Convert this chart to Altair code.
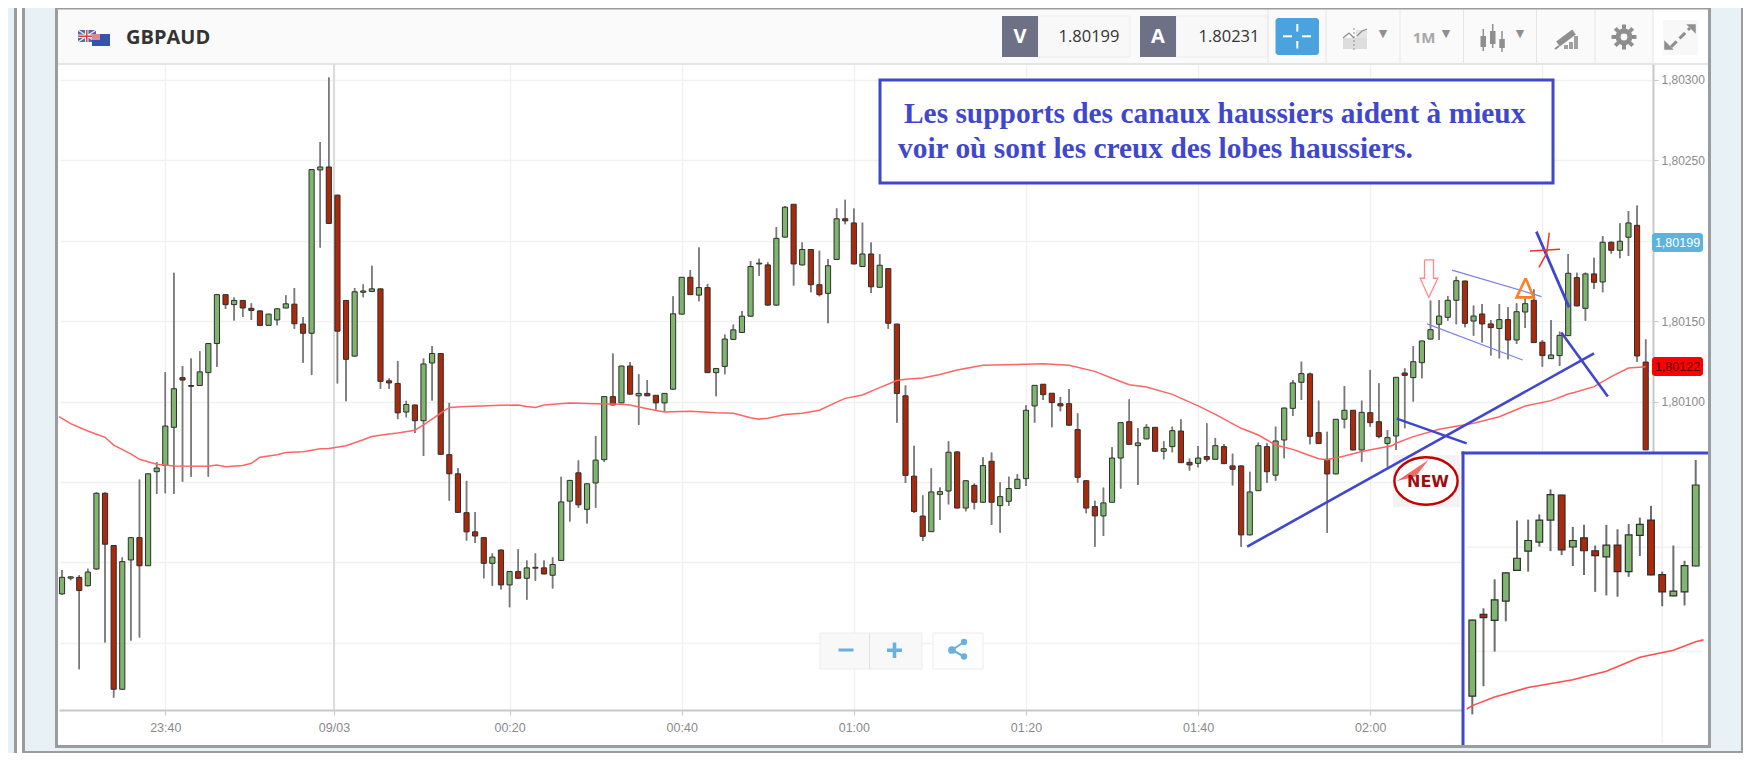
import altair as alt
import pandas as pd

# Candles, in points above 1.80000 (one point = 0.00001)
opens = [-19.6,-9.8,-9.3,-14.5,-4.1,43.0,10.5,-78.9,1.5,15.4,-2.1,56.4,60.3,84.0,114.9,109.5,110.0,118.0,136.1,166.5,
 160.3,162.9,158.0,156.4,147.4,150.8,158.2,160.6,148.2,142.5,244.1,245.9,228.4,162.9,128.3,168.0,168.5,170.1,112.9,111.3,
 93.5,97.9,88.1,124.0,129.9,67.0,55.1,30.9,19.0,15.4,-0.6,7.7,-14.0,-5.7,-9.9,-3.6,-3.4,-8.0,1.2,38.1,
 55.7,33.0,49.4,63.9,103.1,99.2,122.1,103.6,105.1,103.9,99.2,107.7,154.4,177.3,166.2,170.9,118.0,121.9,138.7,143.0,
 153.1,185.6,185.0,160.0,202.3,222.7,185.0,194.6,172.7,167.3,188.4,213.7,211.1,184.0,191.8,171.1,182.7,148.2,103.6,53.6,
 28.8,19.1,42.3,44.4,68.7,33.8,47.9,37.4,62.9,35.3,38.0,45.9,52.1,97.3,110.8,105.2,98.7,98.7,82.6,50.8,
 34.7,28.9,37.4,64.9,87.5,72.6,76.8,84.0,69.1,72.0,81.7,62.2,61.6,65.8,64.1,72.0,60.0,60.0,17.1,44.6,
 72.0,54.2,76.1,95.8,112.0,117.2,80.7,64.1,55.0,89.0,94.6,69.9,93.1,87.5,74.0,78.6,117.8,114.9,124.2,138.9,
 148.1,152.4,163.0,175.0,150.1,154.5,148.3,145.4,151.0,138.3,155.7,163.0,136.9,126.7,128.6,141.0,177.1,158.0,179.4,174.4,
 199.1,194.1,202.2,209.6,124.6]
highs = [-4.7,-8.5,-8.0,-3.9,43.5,43.5,10.8,3.1,15.6,51.5,55.3,62.4,118.3,180.1,122.1,126.8,131.4,136.4,166.7,166.7,
 164.7,163.1,161.1,156.6,154.6,157.9,166.2,170.6,152.6,244.5,261.4,301.6,228.6,163.1,170.6,172.9,184.5,170.3,114.4,125.2,
 100.5,98.1,126.8,134.5,130.1,99.2,58.5,50.7,31.4,15.6,5.6,7.9,-5.5,8.2,1.2,5.6,1.2,3.1,53.3,51.2,
 63.4,49.1,78.6,103.3,129.9,122.3,124.7,117.0,113.4,104.1,105.3,165.5,177.5,181.7,195.9,173.2,120.8,141.7,147.9,156.4,
 187.4,188.9,186.6,208.5,221.7,222.9,199.0,194.8,193.8,188.7,220.1,225.5,220.1,211.3,199.0,191.8,182.9,148.4,110.0,72.6,
 41.7,58.5,46.5,75.3,68.9,51.0,49.0,65.4,68.3,49.8,53.3,54.8,97.7,110.3,111.0,105.4,102.9,107.8,92.7,51.0,
 38.4,46.5,71.6,87.1,101.4,83.6,85.9,84.2,75.3,84.4,89.0,64.5,72.4,86.5,77.4,73.6,67.6,60.2,56.4,74.5,
 74.1,84.4,96.2,113.4,124.8,118.0,100.6,81.3,89.2,109.7,94.8,100.6,119.7,111.4,82.3,115.3,120.7,134.6,137.9,162.8,
 163.2,165.7,177.7,175.2,159.7,160.7,150.8,160.7,158.6,161.1,164.2,169.8,138.3,150.8,143.5,191.8,180.2,180.2,189.5,203.0,
 199.5,210.9,218.5,221.9,138.7]
lows = [-20.1,-11.1,-66.5,-15.0,-4.5,-49.8,-84.1,-79.1,-48.5,-46.7,-2.3,42.5,43.0,42.5,50.2,53.3,109.8,53.3,121.6,157.7,
 150.5,152.6,150.8,147.2,147.2,147.4,158.0,145.3,124.2,116.5,195.9,210.6,111.3,100.2,128.1,164.9,168.3,108.0,108.0,89.1,
 90.2,80.4,66.2,100.7,67.0,38.4,30.9,13.6,12.1,-9.9,-14.5,-16.8,-27.9,-10.1,-23.2,-11.4,-7.4,-16.2,1.0,25.5,
 34.0,24.2,34.0,62.4,97.7,99.0,104.4,85.5,103.4,95.1,93.8,107.5,154.2,166.3,162.4,117.8,103.4,117.0,138.5,142.8,
 152.9,178.3,159.8,159.8,202.1,172.2,184.8,168.0,165.5,148.7,188.2,210.3,185.4,183.8,167.5,170.9,145.3,86.8,49.4,30.7,
 13.4,18.9,26.4,36.1,33.6,31.8,33.0,37.2,23.3,18.5,35.3,45.7,47.5,86.9,101.0,84.0,94.0,85.1,49.6,30.5,
 9.8,16.4,37.2,45.9,73.2,48.1,76.6,69.0,64.1,68.5,61.8,57.1,59.1,62.7,63.9,61.2,47.9,9.8,16.9,44.4,
 49.6,50.8,64.7,91.1,101.0,73.4,73.7,18.5,54.8,83.4,69.7,62.6,84.4,77.2,59.5,69.9,83.4,100.0,114.5,138.7,
 138.3,150.3,148.1,146.2,141.0,136.7,128.6,126.9,126.3,135.8,145.8,136.5,121.7,126.5,122.1,140.8,159.3,150.3,170.0,168.0,
 192.0,189.1,190.6,124.8,70.0]
closes = [-9.3,-9.0,-17.5,-6.0,43.0,11.3,-78.9,0.5,15.4,-2.1,55.1,58.7,84.8,108.0,113.4,110.0,118.5,136.1,166.5,160.3,
 162.9,158.2,156.7,147.4,154.4,157.7,160.8,148.4,142.5,244.3,245.9,210.8,143.8,126.3,168.3,168.8,170.1,112.6,111.6,93.0,
 98.2,88.1,123.4,129.9,67.2,55.1,31.1,19.0,16.4,-0.6,3.3,-14.0,-5.7,-9.9,-3.4,-3.1,-7.2,-1.3,37.6,51.0,
 35.8,48.9,63.6,103.1,97.9,122.1,104.6,105.1,103.6,99.2,105.1,154.6,177.3,166.5,170.9,118.0,120.6,138.9,144.6,153.1,
 184.0,186.1,160.0,201.5,220.9,185.6,194.6,172.7,166.5,184.5,213.7,212.4,185.6,191.8,171.4,184.8,148.7,105.1,54.1,31.7,
 16.2,43.8,44.0,68.5,33.8,50.8,37.4,60.2,37.4,40.9,45.9,51.7,94.6,110.1,104.3,99.4,97.3,85.3,52.9,33.8,
 28.9,37.0,64.9,86.9,73.4,74.3,84.0,69.1,70.7,81.9,62.0,60.6,64.9,64.1,72.6,61.4,57.9,17.1,43.8,72.6,
 56.4,75.5,96.0,111.6,117.4,78.4,73.9,55.0,89.0,94.6,69.9,93.3,86.9,78.2,77.6,115.1,116.3,124.8,137.7,144.7,
 153.2,163.0,175.2,148.7,153.2,148.3,146.0,151.0,138.3,155.9,160.9,136.7,128.6,129.0,141.2,179.8,159.5,179.4,174.2,199.1,
 194.1,199.7,211.1,128.4,70.0]

# Moving average, read at these candle numbers
ma_index = [-0.35,1,3,5,6,8,9,11,13,17,18,19,21,22,23,25,26,28,30,31,33,35,36,38,39,41,42,43,44,45,47,51,53,54,55,56,59,62,65,66,68,70,73,76,78,80,81,82,84,86,88,90,91,93,95,97,98,100,102,104,107,111,114,117,120,122,124,126,129,132,134,137,139,141,143,144,146,147,149,151,154.5,155,157,160,164,167,170,173,175,175.7,178,180,182,184]
ma_value = [90.7,86.3,81.7,77.8,72.9,67.5,64.1,61,60,59.8,60.5,59.5,60.3,61.6,65.4,67,68.3,68.8,70.6,70.8,72.6,76.3,78.3,79.9,80.4,82.2,85.5,89.1,92.8,96.4,96.9,97.7,97.9,96.9,96.4,97.9,99.2,98.7,98.4,97.9,95.6,93.5,94,93,92.8,89.9,89.1,89.7,92,92.8,94.6,99.7,102,104.1,108.7,113.1,113.9,114.7,116.8,119.7,122.6,123,123.6,122.6,118.8,114.5,110.5,109.1,104.5,97.3,92.1,83.4,79.2,73,70.3,68.3,64.5,63.9,66.2,68.9,72.5,74.1,78.2,82.8,86.5,90.6,97.3,100.6,104.7,105.6,109.3,115.5,120.9,121.7]

x_tick_values = [12,31.6,52,72,92,112,132,152,172]
x_tick_labels = ["23:40","09/03","00:20","00:40","01:00","01:20","01:40","02:00",""]
y_tick_points = [300,250,200,150,100,50,0,-50]
y_tick_shown = [300,250,150,100]

title_lines = ["Les supports des canaux haussiers aident à mieux",
               "voir où sont les creux des lobes haussiers."]
symbol = "GBPAUD"
bid, ask = "1.80199", "1.80231"


def price(p):
    return 1.8 + p / 1e5


W, H = 1594, 646
OX, OY = 59, 64          # where the plot area starts on the page
BLUE = "#3f48cc"
SANS = "Liberation Sans"
OPEN = "Open Sans"

base = pd.DataFrame({"a": [0]})
rows = []
for i, (o, h, l, c) in enumerate(zip(opens, highs, lows, closes)):
    rows.append(dict(i=i, a=i - 0.3, b=i + 0.3, open=price(o), high=price(h), low=price(l), close=price(c),
                     dir="up" if c >= o else "down"))
candles = pd.DataFrame(rows)
ma = pd.DataFrame({"i": ma_index, "v": [price(v) for v in ma_value]})

main_x = alt.Scale(domain=[-0.35, 184.85], range=[0, W])
main_y = alt.Scale(domain=[price(-91.8), price(309.95)], range=[H, 0])
ins_x = alt.Scale(domain=[155, 175], range=[1413.3, 1636.7])
ins_y = alt.Scale(domain=[price(72), price(381.5)], range=[H, 0])
body_color = alt.Color("dir:N", scale=alt.Scale(domain=["up", "down"], range=["#7fb56f", "#ab2a0b"]), legend=None)


def rect(x1, y1, x2, y2, fill, **kw):
    return alt.Chart(base).mark_rect(fill=fill, **kw).encode(
        x=alt.value(x1 - OX), x2=alt.value(x2 - OX), y=alt.value(y1 - OY), y2=alt.value(y2 - OY))


def seg(x1, y1, x2, y2, color, w=1.0, **kw):
    return alt.Chart(base).mark_rule(color=color, strokeWidth=w, **kw).encode(
        x=alt.value(x1 - OX), x2=alt.value(x2 - OX), y=alt.value(y1 - OY), y2=alt.value(y2 - OY))


def txt(x, y, s, size, color, font=SANS, weight="normal", align="center", **kw):
    return alt.Chart(base).mark_text(text=s, fontSize=size, color=color, font=font, fontWeight=weight,
                                     align=align, baseline="middle", **kw).encode(
        x=alt.value(x - OX), y=alt.value(y - OY))


def poly(idx, pts, color, w):
    d = pd.DataFrame({"i": idx, "p": [price(p) for p in pts], "n": range(len(idx))})
    return alt.Chart(d).mark_line(color=color, strokeWidth=w).encode(
        x=alt.X("i:Q", scale=main_x, axis=None),
        y=alt.Y("p:Q", scale=main_y, axis=None),
        order="n:Q")


def shape(x, y, path, size, **kw):
    return alt.Chart(base).mark_point(shape=path, size=size, filled=True, **kw).encode(
        x=alt.value(x - OX), y=alt.value(y - OY))


layers = []

# Main wicks carry the real axes and grid
label_expr = "{}[indexof({}, datum.value)]".format(x_tick_labels, x_tick_values)
y_label_expr = ("indexof({}, round(datum.value*1e5)-180000) < 0 ? '' : "
                "replace(format(datum.value,'.5f'),'.',',')").format(y_tick_shown)
layers.append(alt.Chart(candles).mark_rule(color="#7a7a7a", strokeWidth=1.5).encode(
    x=alt.X("i:Q", scale=main_x, axis=alt.Axis(
        values=x_tick_values, labelExpr=label_expr, title=None, grid=True, gridColor="#f1f1f1", gridWidth=1.5,
        domainColor="#c8c8c8", domainWidth=2, tickColor="#c8c8c8", tickSize=5, labelColor="#8a8a8a",
        labelFont=SANS, labelFontSize=12.5, labelPadding=6, labelFlush=False, labelOverlap=False)),
    y=alt.Y("high:Q", scale=main_y, axis=alt.Axis(
        values=[price(v) for v in y_tick_points], orient="right", title=None, grid=True, gridColor="#f1f1f1",
        gridWidth=1.5, domainColor="#c8c8c8", domainWidth=2, tickColor="#c8c8c8", tickSize=5,
        labelColor="#8a8a8a", labelFont=SANS, labelFontSize=12, labelPadding=3, labelOverlap=False,
        labelExpr=y_label_expr)),
    y2="low:Q"))

# darker midnight gridline
layers.append(alt.Chart(pd.DataFrame({"i": [31.6]})).mark_rule(color="#dcdcdc", strokeWidth=2).encode(
    x=alt.X("i:Q", scale=main_x, axis=None)))

# NEW sticker sits below the hand-drawn lines
layers += [
    rect(1393, 455, 1460, 507, "#f3f3f3"),
    alt.Chart(base).mark_point(shape="M-1,0 A1,0.75 0 1,0 1,0 A1,0.75 0 1,0 -1,0 Z", size=4000, filled=True,
                               fill="#ffffff", stroke="#c40000", strokeWidth=2.4, opacity=1).encode(
        x=alt.value(1426 - OX), y=alt.value(481 - OY)),
    shape(1412, 470, "M-0.78,0.57 L0.86,-0.53 L0.19,0.34 Z", 1500, fill="#f26a6a", opacity=1),
    txt(1428, 482, "NEW", 16, "#a00d0d", font="DejaVu Sans", weight="bold"),
]

layers.append(alt.Chart(candles).mark_rule(color="#7a7a7a", strokeWidth=1.5).encode(
    x=alt.X("i:Q", scale=main_x, axis=None), y=alt.Y("high:Q", scale=main_y, axis=None), y2="low:Q"))
layers.append(alt.Chart(candles).mark_rect(stroke="#2e2e2e", strokeWidth=1).encode(
    x=alt.X("a:Q", scale=main_x, axis=None), x2="b:Q",
    y=alt.Y("open:Q", scale=main_y, axis=None), y2="close:Q", color=body_color))
layers.append(alt.Chart(ma).mark_line(color="#ff6464", strokeWidth=1.5).encode(
    x=alt.X("i:Q", scale=main_x, axis=None), y=alt.Y("v:Q", scale=main_y, axis=None), order="i:Q"))

# Hand-drawn annotations
layers += [
    poly([137.7, 178.0], [9.8, 130.0], BLUE, 2.6),
    poly([155.07, 163.2], [89.4, 74.0], BLUE, 2.6),
    poly([161.5, 171.9], [181.8, 165.3], "#7d83e0", 1.2),
    poly([158.6, 169.7], [148.3, 125.9], "#7d83e0", 1.2),
    poly([171.3, 175.1], [205.7, 158.6], BLUE, 2.8),
    poly([174.2, 179.6], [142.9, 103.1], BLUE, 2.6),
    poly([170.55, 174.04], [193.7, 194.7], "#ee3030", 1.5),
    poly([172.8, 172.5, 171.6], [205.0, 192.2, 183.5], "#ee3030", 1.5),
    poly([170.05, 169.0, 171.0, 170.05], [176.7, 164.8, 164.8, 176.7], "#ff7f27", 2.6),
    poly([158.3, 159.35, 159.35, 159.85, 158.8, 157.8, 158.3, 158.3],
         [188.1, 188.1, 176.7, 176.7, 164.8, 176.7, 176.7, 188.1], "#ff8a8a", 1.3),
]

# Text box
layers += [
    rect(880, 80, 1553, 183, "#ffffff", stroke=BLUE, strokeWidth=3),
    txt(904, 113.5, title_lines[0], 29.4, BLUE, font="Liberation Serif", weight="bold", align="left"),
    txt(898, 149, title_lines[1], 29.4, BLUE, font="Liberation Serif", weight="bold", align="left"),
]

# Zoom buttons
SH = "#6ab0dc"
layers += [
    rect(820, 633, 922, 669, "#f8f8f8", stroke="#ececec", strokeWidth=1),
    seg(869.5, 633, 869.5, 669, "#e2e2e2", 1),
    rect(933, 633, 983, 669, "#fdfdfd", stroke="#ececec", strokeWidth=1),
    rect(838.5, 648.5, 853.5, 651.5, SH),
    rect(887, 648.5, 902, 652, SH),
    rect(892.7, 642.5, 896.3, 658, SH),
    seg(952, 650, 964, 642, SH, 2),
    seg(952, 650, 964, 656.5, SH, 2),
    shape(952, 650, "circle", 60, fill=SH, opacity=1),
    shape(964, 642, "circle", 40, fill=SH, opacity=1),
    shape(964, 656.5, "circle", 40, fill=SH, opacity=1),
]

# Inset
layers += [
    rect(1463, 453, 1709, 746, "#ffffff"),
    alt.Chart(pd.DataFrame({"p": [price(150), price(100)]})).mark_rule(color="#f1f1f1", strokeWidth=1.5).encode(
        y=alt.Y("p:Q", scale=ins_y, axis=None), x=alt.value(1467 - OX), x2=alt.value(1703 - OX)),
    alt.Chart(pd.DataFrame({"i": [172]})).mark_rule(color="#f1f1f1", strokeWidth=1.5).encode(
        x=alt.X("i:Q", scale=ins_x, axis=None), y=alt.value(455 - OY), y2=alt.value(743 - OY)),
]
ins_c = candles[(candles.i >= 155) & (candles.i <= 175)]
ins_m = ma[(ma.i >= 154.5) & (ma.i <= 175.7)]
layers += [
    alt.Chart(ins_c).mark_rule(color="#6e6e6e", strokeWidth=2).encode(
        x=alt.X("i:Q", scale=ins_x, axis=None), y=alt.Y("high:Q", scale=ins_y, axis=None), y2="low:Q"),
    alt.Chart(ins_c).mark_rect(stroke="#2e2e2e", strokeWidth=1.2).encode(
        x=alt.X("a:Q", scale=ins_x, axis=None), x2="b:Q",
        y=alt.Y("open:Q", scale=ins_y, axis=None), y2="close:Q", color=body_color),
    alt.Chart(ins_m).mark_line(color="#ff4f4f", strokeWidth=1.6).encode(
        x=alt.X("i:Q", scale=ins_x, axis=None), y=alt.Y("v:Q", scale=ins_y, axis=None), order="i:Q"),
    rect(1461.5, 451.5, 1709, 454.5, BLUE),
    rect(1461.5, 451.5, 1464.5, 746, BLUE),
]

# Price tags
layers += [
    rect(1652, 233, 1703, 252, "#5ab4de", cornerRadius=3),
    txt(1677.5, 242.5, "1,80199", 12.5, "#ffffff"),
    rect(1652, 357, 1703, 376, "#ff0000", cornerRadius=3),
    txt(1677.5, 366.5, "1,80122", 12.5, "#5a0000"),
]

# Toolbar
GR = "#8f8f8f"
layers += [
    rect(58, 8, 1653, 64, "#fafafa"),
    rect(1653, 8, 1709, 64, "#ffffff"),
    seg(58, 64, 1709, 64, "#dcdcdc", 1.5),
    # flags
    rect(78, 30, 96, 42, "#5566a8"),
    seg(78, 30, 96, 42, "#e8e8f0", 1.5),
    seg(78, 42, 96, 30, "#e8e8f0", 1.5),
    rect(78, 34.5, 96, 38, "#f2f2f2"),
    rect(85, 30, 88.5, 42, "#f2f2f2"),
    rect(78, 35.5, 96, 37, "#e04040"),
    rect(86, 30, 87.5, 42, "#e04040"),
    rect(92, 34, 110, 46, "#3553b0"),
    rect(92, 34, 100, 40, "#d98a9a"),
    txt(126, 37.5, symbol, 20, "#333333", font=OPEN, weight="bold", align="left"),
    # bid / ask
    rect(1038, 16, 1130, 57, "#f8f8f8", stroke="#eeeeee", strokeWidth=1),
    rect(1002, 16, 1038, 57, "#6e7086"),
    txt(1020, 37, "V", 20, "#ffffff", font=OPEN, weight="bold"),
    txt(1089, 37, bid, 16.5, "#333333", font=OPEN),
    rect(1176, 16, 1268, 57, "#f8f8f8", stroke="#eeeeee", strokeWidth=1),
    rect(1140, 16, 1176, 57, "#6e7086"),
    txt(1158, 37, "A", 20, "#ffffff", font=OPEN, weight="bold"),
    txt(1229, 37, ask, 16.5, "#333333", font=OPEN),
    # crosshair button
    rect(1275.5, 18, 1319, 55, "#4aa3df", cornerRadius=3),
    rect(1283, 35.3, 1292, 37.3, "#ffffff"),
    rect(1302, 35.3, 1311, 37.3, "#ffffff"),
    rect(1296.3, 24, 1298.3, 31.5, "#ffffff"),
    rect(1296.3, 41, 1298.3, 48.5, "#ffffff"),
]
for sx in [1268, 1326, 1400, 1463.5, 1536.5, 1595, 1653]:
    layers.append(seg(sx, 8, sx, 64, "#e6e6e6", 1))
layers += [
    # chart-type icon
    rect(1343, 38, 1367, 49, "#dddddd"),
    rect(1356, 30, 1367, 38, "#e4e4e4"),
    seg(1343, 38, 1349, 33, GR, 1.3), seg(1349, 33, 1354, 38, GR, 1.3),
    seg(1357, 36, 1362, 31, GR, 1.3), seg(1362, 31, 1367, 29, GR, 1.3),
    seg(1354, 28, 1354, 50, GR, 1, strokeDash=[2, 2]),
    txt(1383, 33.5, "▼", 11, GR, font="DejaVu Sans"),
    txt(1424, 38, "1M", 15, "#a8a8a8", font=OPEN, weight="bold"),
    txt(1446, 33.5, "▼", 11, GR, font="DejaVu Sans"),
    # candles icon
    seg(1483.3, 29, 1483.3, 51, GR, 1.5), rect(1480.5, 36, 1486, 47, GR),
    seg(1492.7, 24, 1492.7, 48, GR, 1.5), rect(1490, 31, 1495.5, 44, GR),
    seg(1502, 31, 1502, 52, GR, 1.5), rect(1499.3, 39, 1504.8, 48, GR),
    txt(1520, 33.5, "▼", 11, GR, font="DejaVu Sans"),
    # pen icon
    seg(1558, 44, 1574, 32, GR, 6),
    seg(1555, 49, 1559, 46, GR, 2),
    rect(1564, 45, 1568, 49, "#a0a0a0"), rect(1569, 42, 1573, 49, "#a0a0a0"), rect(1574, 36, 1578, 49, "#a0a0a0"),
    # gear
    alt.Chart(base).mark_point(shape="circle", size=140, stroke=GR, strokeWidth=5, opacity=1).encode(
        x=alt.value(1624 - OX), y=alt.value(37 - OY)),
    seg(1624, 24.5, 1624, 29, GR, 4), seg(1624, 45, 1624, 49.5, GR, 4),
    seg(1611.5, 37, 1616, 37, GR, 4), seg(1632, 37, 1636.5, 37, GR, 4),
    seg(1615.3, 28.3, 1618.3, 31.3, GR, 4), seg(1629.7, 42.7, 1632.7, 45.7, GR, 4),
    seg(1615.3, 45.7, 1618.3, 42.7, GR, 4), seg(1629.7, 31.3, 1632.7, 28.3, GR, 4),
    # expand
    rect(1663, 20, 1698, 55, "#f8f8f8"),
    seg(1671, 47, 1690, 28, GR, 3, strokeDash=[8, 4]),
    shape(1669, 45, "M-1,1 L-1,-1 L1,1 Z", 90, fill=GR, opacity=1),
    shape(1691, 29, "M1,-1 L1,1 L-1,-1 Z", 90, fill=GR, opacity=1),
]

# Page frame
FRAME = "#9a9c9e"
SKY = "#e8f1f6"
layers += [
    rect(25, 8, 55, 753, SKY),
    rect(8, 8, 14, 753, SKY),
    rect(1711, 8, 1741, 753, SKY),
    rect(25, 748, 1741, 753, SKY),
    rect(14, 8, 17, 753, FRAME),
    rect(22, 8, 25, 753, FRAME),
    rect(1741, 8, 1743, 753, FRAME),
    rect(55, 8, 58, 748, FRAME),
    rect(1708, 8, 1711, 748, FRAME),
    rect(55, 745, 1711, 748, FRAME),
    rect(55, 8, 1711, 9.5, FRAME),
    rect(25, 751, 1743, 753, FRAME),
]

chart = alt.layer(*layers).resolve_scale(x="independent", y="independent", color="independent").properties(
    width=W, height=H, background="#ffffff",
    padding={"left": OX - 8, "top": OY - 8, "right": 1744 - OX - W, "bottom": 753 - OY - H},
    autosize=alt.AutoSizeParams(type="none", contains="content"),
).configure_view(stroke=None)

chart.save("out.html", embed_options={"renderer": "svg", "actions": False})
